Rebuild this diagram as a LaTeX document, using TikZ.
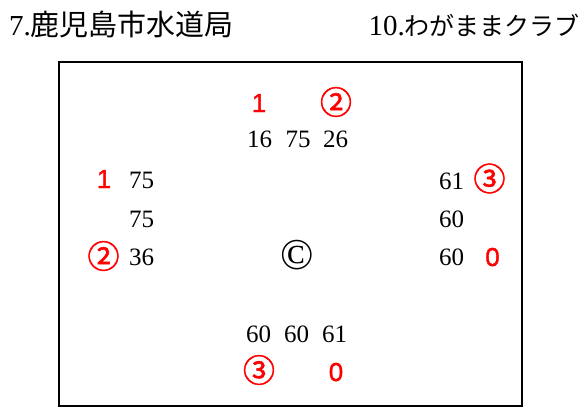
\documentclass[tikz,border=0pt]{standalone}
\usepackage{fontspec}
\setmainfont{Liberation Serif}
\newfontfamily\jpfont{Noto Sans CJK JP}
\newfontfamily\circfont[FakeBold=1.6]{Noto Sans CJK JP}
\newfontfamily\redsans[FakeBold=1.3]{Liberation Sans}
\begin{document}
\begin{tikzpicture}[x=1pt,y=-1pt,
  num/.style={font=\fontsize{25}{30}\selectfont, anchor=base, inner sep=0pt},
  redscore/.style={font=\redsans\fontsize{26}{30}\selectfont, text=red, anchor=base, inner sep=0pt},
  circ/.style={font=\circfont\fontsize{32}{36}\selectfont, text=red, inner sep=0pt},
  titletext/.style={font=\fontsize{29}{34}\selectfont, inner sep=0pt},
  copymark/.style={font=\fontsize{44}{48}\selectfont, inner sep=0pt}]
\useasboundingbox (0,0) rectangle (581,408);
\draw[line width=2.5pt] (59,62) rectangle (522,406);
% titles
\node[titletext, anchor=base west] (tl) at (9,35) {7.{\jpfont 鹿児島市水道局}};
\node[titletext, anchor=base east] (tr) at (580,35) {10.{\jpfont\fontsize{25}{30}\selectfont わがままクラブ}};
% top
\node[redscore] (t1) at (259,112) {1};
\node[circ] (t2) at (336,102) {②};
\node[num] (n16) at (259.5,147) {16};
\node[num] (n75t) at (298,147) {75};
\node[num] (n26) at (335.5,147) {26};
% left
\node[redscore] (l1) at (104,188) {1};
\node[num] (l75a) at (141.5,188) {75};
\node[num] (l75b) at (141.5,227) {75};
\node[circ] (l2) at (103.5,256) {②};
\node[num] (l36) at (141.5,265) {36};
% right
\node[num] (r61) at (451.5,189) {61};
\node[circ] (r3) at (489.5,178.5) {③};
\node[num] (r60a) at (451.5,227) {60};
\node[num] (r60b) at (451.5,265) {60};
\node[redscore] (r0) at (492.5,266) {0};
% centre
\node[copymark] (c) at (297,255) {©};
% bottom
\node[num] (b60a) at (258.5,342) {60};
\node[num] (b60b) at (296.5,342) {60};
\node[num] (b61) at (334.5,342) {61};
\node[circ] (b3) at (259,370) {③};
\node[redscore] (b0) at (336,381) {0};
\end{tikzpicture}
\end{document}
